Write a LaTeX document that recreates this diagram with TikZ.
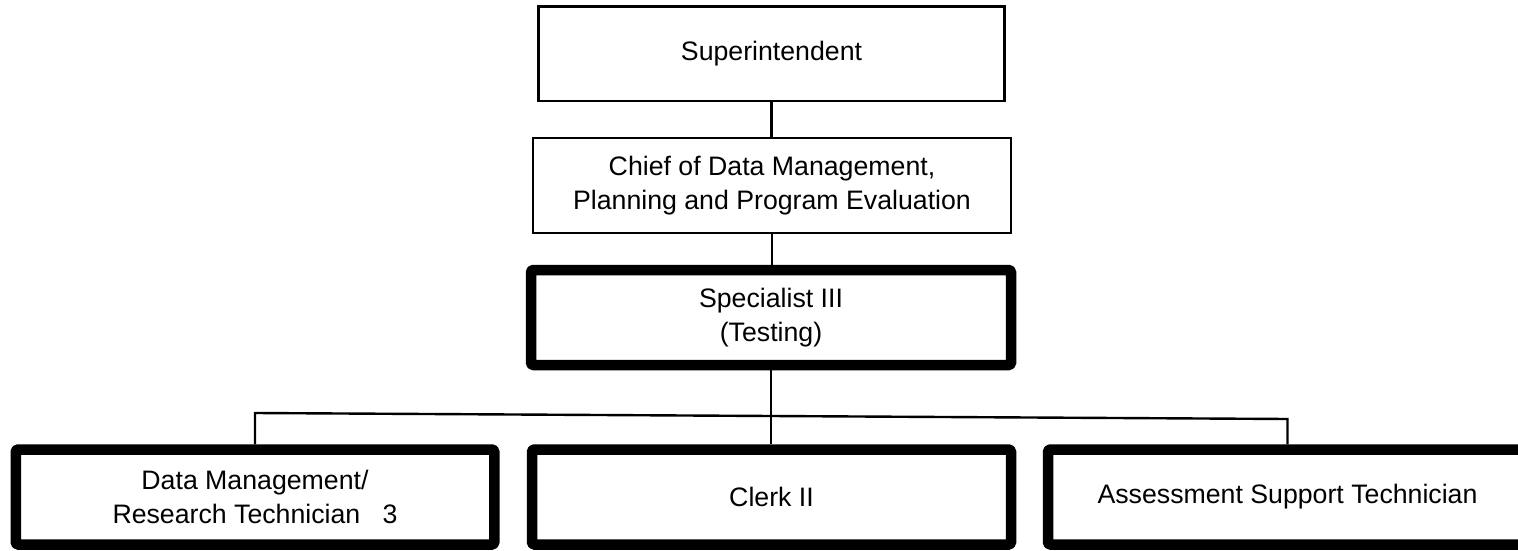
\documentclass[tikz,border=0pt]{standalone}
\usepackage{fontspec}
\setmainfont{Liberation Sans}
\usetikzlibrary{positioning}

\begin{document}
\begin{tikzpicture}[x=1pt,y=1pt]
        \tikzstyle{every node}+=[inner sep=0pt, align=center, font=\fontsize{26.7}{34}\selectfont]
        \tikzstyle{post}=[draw=black, rectangle, line width=2.4pt, minimum height=95pt]
        \tikzstyle{thickpost}=[post, line width=10.5pt, line join=round, rounded corners=1.5pt]
        \tikzstyle{link}=[black, line width=2.4pt]
        \useasboundingbox (0,0) rectangle (1518,550);
        \node [post, minimum width=466pt, minimum height=94.5pt] (sup) at (771.5,496.2) {Superintendent};
        \node [post, minimum width=478pt] (chief) at (772,364.5) {Chief of Data Management,\\Planning and Program Evaluation};
        \node [thickpost, minimum width=480pt] (spec) at (771,232.5) {Specialist III\\(Testing)};
        \node [thickpost, minimum width=478.5pt] (dm) at (255,53) {Data Management/\\Research Technician~~~3};
        \node [thickpost, minimum width=479pt] (clerk) at (771.5,53) {Clerk II};
        \node [thickpost, minimum width=479pt] (ast) at (1287.5,53) {Assessment Support Technician};
        \coordinate (lt) at (dm.north |- 0,137);
        \coordinate (rt) at (ast.north |- 0,131);
        \draw [link] (sup) -- (sup |- chief.north);
        \draw [link] (chief.south) -- (chief.south |- spec.north);
        \draw [link] (spec.south) -- (spec.south |- clerk.north);
        \draw [link] (dm.north) -- (lt) -- (rt) -- (ast.north);
\end{tikzpicture}
\end{document}
